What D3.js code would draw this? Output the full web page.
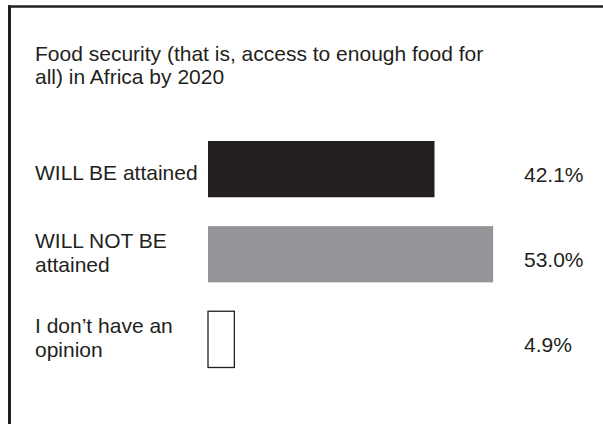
<!DOCTYPE html>
<html>
<head>
<meta charset="utf-8">
<script src="https://cdn.jsdelivr.net/npm/d3@7"></script>
<style>
  html, body { margin: 0; padding: 0; background: #ffffff; }
  svg { display: block; }
  text { font-family: "Liberation Sans", Arial, Helvetica, sans-serif; fill: #231f20; }
</style>
</head>
<body>
<svg id="chart" width="603" height="424"></svg>
<script>
const titleLines = ["Food security (that is, access to enough food for", "all) in Africa by 2020"];
const categories = ["WILL BE attained", "WILL NOT BE attained", "I don’t have an opinion"];
const labelLines = [["WILL BE attained"], ["WILL NOT BE", "attained"], ["I don’t have an", "opinion"]];
const values = [42.1, 53.0, 4.9];
const barColors = ["#231f20", "#939598", "#ffffff"];

const svg = d3.select("#chart");
const ink = "#231f20";
const fontSize = 21;

// frame lines (top and left)
svg.append("line").attr("x1", 8).attr("x2", 603).attr("y1", 6.5).attr("y2", 6.5)
  .attr("stroke", ink).attr("stroke-width", 2.5);
svg.append("line").attr("x1", 9.5).attr("x2", 9.5).attr("y1", 5.3).attr("y2", 424)
  .attr("stroke", ink).attr("stroke-width", 3);

// title (one text element, two lines)
const title = svg.append("text")
  .attr("x", 35)
  .attr("y", 60.5)
  .style("font-size", fontSize + "px");
title.selectAll("tspan").data(titleLines).join("tspan")
  .attr("x", 35)
  .attr("y", (d, i) => 60.5 + i * 23.5)
  .text(d => d);

const y = d3.scaleBand().domain(categories).range([141, 367.5]).paddingInner(0.339).paddingOuter(0);
const x = d3.scaleLinear().domain([0, 100]).range([208, 746]);

const rows = svg.append("g").selectAll("g").data(categories).join("g");

rows.append("rect")
  .attr("x", x(0))
  .attr("y", d => y(d))
  .attr("width", (d, i) => x(values[i]) - x(0))
  .attr("height", y.bandwidth())
  .attr("fill", (d, i) => barColors[i])
  .attr("stroke", (d, i) => barColors[i] === "#ffffff" ? ink : "none")
  .attr("stroke-width", 1.3);

rows.each(function (d, i) {
  const g = d3.select(this);
  const c = y(d) + y.bandwidth() / 2;
  const lines = labelLines[i];
  const base = lines.length === 1 ? [c + 11] : [c - 6, c + 18];
  const lab = g.append("text")
    .attr("x", 35)
    .attr("y", base[0])
    .style("font-size", fontSize + "px");
  lab.selectAll("tspan").data(lines).join("tspan")
    .attr("x", 35)
    .attr("y", (t, j) => base[j])
    .text(t => t);
  g.append("text")
    .attr("x", 524)
    .attr("y", c + 13)
    .style("font-size", fontSize + "px")
    .text(d3.format(".1f")(values[i]) + "%");
});
</script>
</body>
</html>
